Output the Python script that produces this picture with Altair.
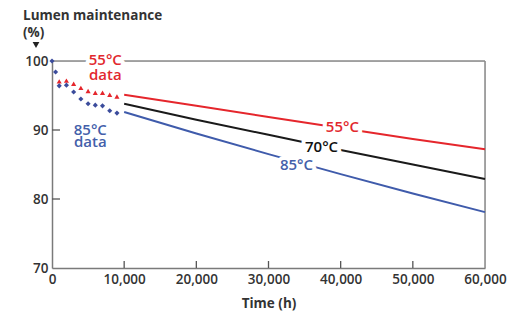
import altair as alt
import pandas as pd

# ---- data ----
fit_hours = [10000, 20000, 30000, 40000, 50000, 60000]
fit_55 = [95.1, 93.5, 91.9, 90.3, 88.7, 87.2]
fit_70 = [93.8, 91.5, 89.3, 87.1, 85.0, 82.9]
fit_85 = [92.6, 89.5, 86.5, 83.6, 80.8, 78.1]

meas_hours_55 = [1000, 2000, 3000, 4000, 5000, 6000, 7000, 8000, 9000]
meas_55 = [97.05, 97.15, 96.7, 96.1, 95.65, 95.4, 95.4, 95.1, 94.85]

meas_hours_85 = [0, 500, 1000, 2000, 3000, 4000, 5000, 6000, 7000, 8000, 9000]
meas_85 = [100.0, 98.4, 96.4, 96.5, 95.5, 94.5, 93.8, 93.6, 93.5, 92.8, 92.45]

line_labels = ["55°C", "70°C", "85°C"]
line_label_hours = [40240, 37350, 33880]
line_label_values = [90.4, 87.5, 84.9]

data_label_text = ["55°C", "data", "85°C", "data"]
data_label_hours = [7390, 7390, 5310, 5310]
data_label_values = [100.1, 97.9, 90.0, 88.3]
data_label_series = ["55", "55", "85", "85"]

x_tick_values = [0, 10000, 20000, 30000, 40000, 50000, 60000]
x_inner_ticks = [10000, 20000, 30000, 40000, 50000]
y_tick_values = [70, 80, 90, 100]
y_inner_ticks = [80, 90]

RED = "#e5262c"
BLUE = "#3f5bab"
BLACK = "#1a1a1a"
FRAME = "#8a8a8a"
TEXT = "#333333"
FONT = "Open Sans"

W, H = 433, 207

fits = pd.DataFrame({
    "t": fit_hours * 3,
    "v": fit_55 + fit_70 + fit_85,
    "s": ["55"] * 6 + ["70"] * 6 + ["85"] * 6,
})
color_scale = alt.Scale(domain=["55", "70", "85"], range=[RED, BLACK, BLUE])

xs = alt.Scale(domain=[0, 60000], nice=False)
ys = alt.Scale(domain=[70, 100], nice=False)

xaxis = alt.Axis(values=x_tick_values, format=",d", title="Time (h)", ticks=False, tickSize=0,
                 labelFlush=False, labelPadding=4, grid=False, domainColor="#7a7a7a",
                 domainWidth=1.5, labelFont=FONT, labelFontSize=13.5, labelFontWeight=600,
                 labelColor=TEXT, titleFont=FONT, titleFontSize=13.5, titleFontWeight="bold",
                 titleColor=TEXT, titlePadding=11)
yaxis = alt.Axis(values=y_tick_values, title=None, ticks=False, tickSize=0, labelPadding=4,
                 grid=False, domainColor="#7a7a7a", domainWidth=1.5, labelFont=FONT,
                 labelFontSize=13.5, labelFontWeight=600, labelColor=TEXT, labelOffset=0)

base_x = alt.X("t:Q", scale=xs, axis=xaxis)
base_y = alt.Y("v:Q", scale=ys, axis=yaxis)

one = pd.DataFrame({"a": [0]})

top_frame = alt.Chart(one).mark_rule(color=FRAME, strokeWidth=1.5).encode(
    x=alt.value(0), x2=alt.value(W), y=alt.value(0))
right_frame = alt.Chart(one).mark_rule(color=FRAME, strokeWidth=1.5).encode(
    x=alt.value(W), y=alt.value(0), y2=alt.value(H))

xt = alt.Chart(pd.DataFrame({"t": x_inner_ticks})).mark_rule(color="#555", strokeWidth=1.3).encode(
    x=alt.X("t:Q", scale=xs), y=alt.value(H), y2=alt.value(H - 7))
yt = alt.Chart(pd.DataFrame({"v": y_inner_ticks})).mark_rule(color="#555", strokeWidth=1.3).encode(
    y=alt.Y("v:Q", scale=ys), x=alt.value(0), x2=alt.value(8))

lines = alt.Chart(fits).mark_line(strokeWidth=2).encode(
    x=base_x, y=base_y,
    color=alt.Color("s:N", scale=color_scale, legend=None))

red_pts = alt.Chart(pd.DataFrame({"t": meas_hours_55, "v": meas_55})).mark_point(
    shape="triangle-up", filled=True, color=RED, size=26, opacity=1).encode(
    x=alt.X("t:Q", scale=xs), y=alt.Y("v:Q", scale=ys))
blue_pts = alt.Chart(pd.DataFrame({"t": meas_hours_85, "v": meas_85})).mark_point(
    shape="diamond", filled=True, color="#3b4c9c", size=26, opacity=1).encode(
    x=alt.X("t:Q", scale=xs), y=alt.Y("v:Q", scale=ys))

ll = pd.DataFrame({"t": line_label_hours, "v": line_label_values, "txt": line_labels,
                   "s": ["55", "70", "85"]})
dl = pd.DataFrame({"t": data_label_hours, "v": data_label_values, "txt": data_label_text,
                   "s": data_label_series})
lbl = pd.concat([ll, dl], ignore_index=True)

halo = alt.Chart(lbl).mark_text(font=FONT, fontSize=15, fontWeight=600, color="white",
                                stroke="white", strokeWidth=8, strokeJoin="round",
                                baseline="middle", align="center").encode(
    x=alt.X("t:Q", scale=xs), y=alt.Y("v:Q", scale=ys), text="txt:N")
label_txt = alt.Chart(lbl).mark_text(font=FONT, fontSize=15, fontWeight=600,
                                     baseline="middle", align="center").encode(
    x=alt.X("t:Q", scale=xs), y=alt.Y("v:Q", scale=ys), text="txt:N",
    color=alt.Color("s:N", scale=alt.Scale(domain=["55", "70", "85"],
                                           range=["#e2282e", "#111111", "#4460aa"]), legend=None))

arrow = alt.Chart(one).mark_point(shape="triangle-down", filled=True, color="#222", size=45,
                                  opacity=1).encode(x=alt.value(-16), y=alt.value(-16))

chart = alt.layer(
    top_frame, right_frame, xt, yt, lines, red_pts, blue_pts, halo, label_txt, arrow
).resolve_scale(color="independent").properties(
    width=W, height=H,
    title=alt.TitleParams(text=["Lumen maintenance", "(%)"], anchor="start", font=FONT,
                          fontSize=13.5, fontWeight="bold", color=TEXT, lineHeight=17,
                          frame="group", dx=-29, dy=19, offset=22),
    autosize=alt.AutoSizeParams(type="none"),
    padding={"left": 44, "top": 53, "right": 30, "bottom": 44},
).configure_view(stroke=None).configure(background="white")

chart.save("out.html", embed_options={"renderer": "svg", "actions": False})
